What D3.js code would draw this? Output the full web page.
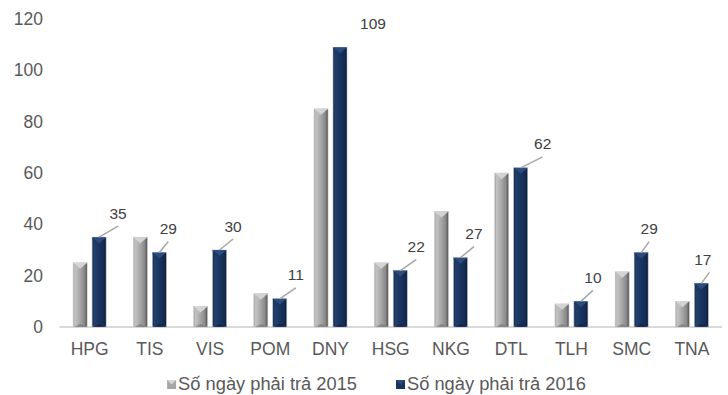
<!DOCTYPE html>
<html>
<head>
<meta charset="utf-8">
<script src="https://cdn.jsdelivr.net/npm/d3@7"></script>
<style>
html,body{margin:0;padding:0;background:#fff;}
svg{display:block;font-family:"Liberation Sans",Arial,sans-serif;}
</style>
</head>
<body>
<svg id="chart" width="728" height="395"></svg>
<script>
const categories = ["HPG","TIS","VIS","POM","DNY","HSG","NKG","DTL","TLH","SMC","TNA"];
const values2015 = [25,35,8,13,85,25,45,60,9,21.5,10];
const values2016 = [35,29,30,11,109,22,27,62,10,29,17];
const seriesNames = ["Số ngày phải trả 2015","Số ngày phải trả 2016"];
const yTicks = [0,20,40,60,80,100,120];
// label placement (style only): horizontal offset of each 2016 label from its bar
const labelDx = [19,9,13.5,16,33,16,13.5,22,12,8,1.5];
const showLeader = [true,true,true,true,false,true,true,true,true,true,true];

const svg = d3.select("#chart");
const plot = {left:59.5, right:722, top:19, bottom:327};

const x0 = d3.scaleBand().domain(categories).range([plot.left, plot.right]).padding(0);
const step = x0.bandwidth();
const x1 = d3.scaleBand().domain(["2015","2016"])
  .range([step/2-16.5, step/2+16.5]).paddingInner(0.26).paddingOuter(0);
const y = d3.scaleLinear().domain([0,120]).range([plot.bottom, plot.top]);

const defs = svg.append("defs");
function grad(id, stops){
  const g = defs.append("linearGradient").attr("id",id).attr("x1","0").attr("x2","1").attr("y1","0").attr("y2","0");
  stops.forEach(s=>g.append("stop").attr("offset",s[0]).attr("stop-color",s[1]));
}
grad("gGray",[["0","#9a9a9a"],["0.12","#c4c4c4"],["0.45","#aaaaaa"],["0.8","#8a8a8a"],["1","#4f4f4f"]]);
grad("gNavy",[["0","#14284a"],["0.15","#223f6c"],["0.5","#1a3460"],["0.85","#142a50"],["1","#0a1730"]]);

// axis line
svg.append("line").attr("x1",plot.left).attr("x2",plot.right)
  .attr("y1",y(0)).attr("y2",y(0)).attr("stroke","#d9d9d9").attr("stroke-width",2);

// y tick labels
const yAxis = d3.axisLeft(y).tickValues(yTicks).tickSize(0).tickPadding(0);
const ya = svg.append("g").attr("transform","translate(43,0)").call(yAxis);
ya.select(".domain").remove();
ya.selectAll("text").attr("font-size","17.5px").attr("fill","#595959")
  .attr("font-family","'Liberation Sans',Arial,sans-serif");

// x category labels
const xAxis = d3.axisBottom(x0).tickSize(0).tickPadding(0);
const xa = svg.append("g").attr("transform",`translate(0,${y(0)})`).call(xAxis);
xa.select(".domain").remove();
xa.selectAll("text").attr("font-size","17.5px").attr("fill","#595959")
  .attr("font-family","'Liberation Sans',Arial,sans-serif").attr("dy",null).attr("y",28);

// bars
const rows = categories.map((c,i)=>({c, v:[values2015[i], values2016[i]], i}));
function drawBar(g, xLeft, w, v, kind){
  const top = y(v), bot = y(0), h = bot-top;
  const isGray = kind==="2015";
  g.append("rect").attr("x",xLeft).attr("y",top).attr("width",w).attr("height",h)
    .attr("fill", isGray?"url(#gGray)":"url(#gNavy)")
    .attr("stroke", isGray?"#d0d0d0":"#b8c0cc").attr("stroke-width",0.6);
  const bev = Math.min(w/2, h/2);
  g.append("path").attr("d",`M${xLeft},${top}L${xLeft+w},${top}L${xLeft+w/2},${top+bev*0.85}Z`)
    .attr("fill", isGray?"#d6d6d6":"#2d4d80").attr("opacity",0.95);
  g.append("path").attr("d",`M${xLeft},${top}L${xLeft+w/2},${top+bev*0.85}L${xLeft+2},${top+bev*0.85+2}Z`)
    .attr("fill", isGray?"#bdbdbd":"#1c3866").attr("opacity",0.8);
  g.append("path").attr("d",`M${xLeft+1},${bot}L${xLeft+w-1},${bot}L${xLeft+w/2},${bot-Math.min(3,h/3)}Z`)
    .attr("fill", isGray?"#707070":"#0c1a36").attr("opacity",0.6);
}
const groups = svg.append("g").selectAll("g").data(rows).join("g")
  .attr("transform",d=>`translate(${x0(d.c)},0)`);
groups.each(function(d){
  const g = d3.select(this);
  ["2015","2016"].forEach((k,j)=>drawBar(g, x1(k), x1.bandwidth(), d.v[j], k));
});

// data labels for 2016 with leader lines
const labG = svg.append("g");
rows.forEach(d=>{
  const cx = x0(d.c) + x1("2016") + x1.bandwidth()/2;
  const top = y(d.v[1]);
  const lx = cx + labelDx[d.i];
  const ly = top - 24;
  if(showLeader[d.i]){
    labG.append("line").attr("x1",cx).attr("y1",top)
      .attr("x2",Math.max(lx, cx+8)).attr("y2",ly+13)
      .attr("stroke","#a6a6a6").attr("stroke-width",1.5);
  }
  labG.append("text").attr("x",lx).attr("y",ly+5.5).attr("text-anchor","middle")
    .attr("font-size","15.5px").attr("fill","#404040").text(d.v[1]);
});

// legend
const leg = svg.append("g");
const LF = "18.3px";
leg.append("text").attr("x",407).attr("y",390).attr("font-size",LF)
  .attr("fill","#595959").text(seriesNames[1]);
leg.append("rect").attr("x",396).attr("y",380).attr("width",9).attr("height",9).attr("fill","#1a3460");
leg.append("path").attr("d","M396,380L405,380L400.5,384.5Z").attr("fill","#2d4d80");
const t1 = leg.append("text").attr("x",357).attr("y",390).attr("text-anchor","end").attr("font-size",LF)
  .attr("fill","#595959").text(seriesNames[0]);
const w1 = t1.node().getComputedTextLength();
const mx = 357 - w1 - 11;
leg.append("rect").attr("x",mx).attr("y",380).attr("width",9).attr("height",9).attr("fill","#a6a6a6");
leg.append("path").attr("d",`M${mx},380L${mx+9},380L${mx+4.5},384.5Z`).attr("fill","#d6d6d6");
</script>
</body>
</html>
